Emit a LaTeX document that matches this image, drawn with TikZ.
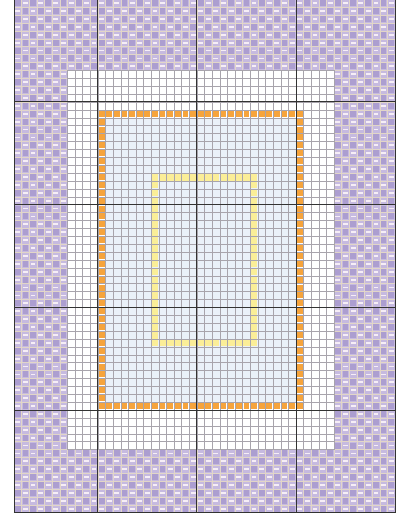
\documentclass[tikz,border=0pt]{standalone}
\definecolor{purbase}{HTML}{C6BAE0}
\definecolor{purdark}{HTML}{AC9ED0}
\definecolor{dashc}{HTML}{F6EEF6}
\definecolor{gridc}{HTML}{A8A4AC}
\definecolor{pgridc}{HTML}{E2D6C8}
\definecolor{orangec}{HTML}{F6A43C}
\definecolor{yellowc}{HTML}{FBEE98}
\definecolor{bluec}{HTML}{EAF1F9}
\tikzset{
  finegrid/.style={draw=gridc, line width=0.35pt, xstep=7.62pt, ystep=7.9pt},
  majorline/.style={draw=black!80, line width=0.8pt},
  orsq/.style={fill=orangec},
  yesq/.style={fill=yellowc}
}
\begin{document}
\begin{tikzpicture}[x=7.62pt,y=7.9pt]
\useasboundingbox (-1.837,-0.291) rectangle (51.05,64.9);
\fill[white] (-1.837,-0.291) rectangle (51.05,64.9);
\begin{scope}
\clip (0,0) rectangle (50,64.9);
\fill[purbase] (0,0) rectangle (50,65);
\foreach \c in {0,...,49}{\foreach \r in {0,...,64}{
  \ifodd\numexpr\c+\r\relax
    \fill[dashc] (\c+0.18,\r+0.38) rectangle (\c+0.82,\r+0.62);
  \else
    \fill[purdark] (\c+0.12,\r+0.12) rectangle (\c+0.88,\r+0.88);
  \fi
}}
\draw[finegrid, draw=pgridc] (0,0) grid (50,65);
\fill[white] (7,8) rectangle (42,56);
\fill[bluec] (12,14) rectangle (37,50);
\foreach \c in {11,...,37}{
  \fill[orsq] (\c+.12,13.12) rectangle (\c+.88,13.88);
  \fill[orsq] (\c+.12,50.12) rectangle (\c+.88,50.88);}
\foreach \r in {14,...,49}{
  \fill[orsq] (11.12,\r+.12) rectangle (11.88,\r+.88);
  \fill[orsq] (37.12,\r+.12) rectangle (37.88,\r+.88);}
\foreach \c in {18,...,31}{
  \fill[yesq] (\c+.05,21.05) rectangle (\c+.95,21.95);
  \fill[yesq] (\c+.05,42.05) rectangle (\c+.95,42.95);}
\foreach \r in {22,...,41}{
  \fill[yesq] (18.05,\r+.05) rectangle (18.95,\r+.95);
  \fill[yesq] (31.05,\r+.05) rectangle (31.95,\r+.95);}
\draw[finegrid] (7,8) grid (42,56);
\foreach \c in {11,24,37} \draw[majorline] (\c,0) -- (\c,65);
\foreach \r in {13,26,39,52} \draw[majorline] (0,\r) -- (50,\r);
\end{scope}
\draw[majorline] (0,0) -- (50,0) -- (50,64.9) (0,64.9) -- (0,0);
\end{tikzpicture}
\end{document}
